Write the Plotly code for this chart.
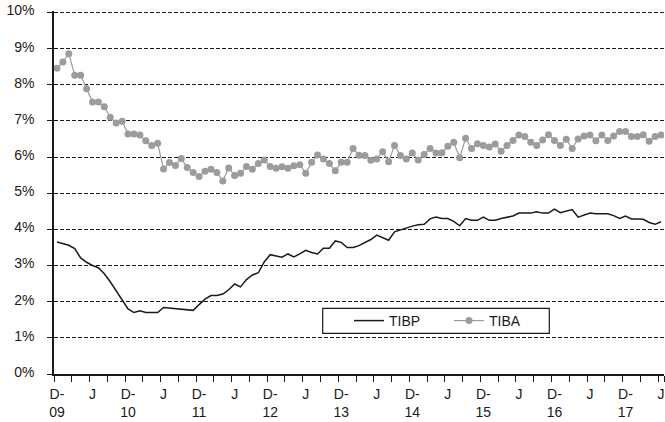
import pandas as pd
import plotly.graph_objects as go

# Monthly categories, Dec 2009 .. Jun 2018
months = [d.strftime("%Y-%m") for d in pd.date_range("2009-12-01", "2018-06-01", freq="MS")]

tibp = [3.65, 3.60, 3.56, 3.47, 3.21, 3.09, 3.00, 2.94, 2.77, 2.55, 2.29, 2.06, 1.80,
        1.70, 1.75, 1.70, 1.69, 1.70, 1.84, 1.82, 1.80, 1.80, 1.76, 1.76, 1.92,
        2.07, 2.17, 2.17, 2.21, 2.33, 2.49, 2.41, 2.61, 2.74, 2.80, 3.10, 3.30, 3.26,
        3.23, 3.32, 3.24, 3.32, 3.42, 3.36, 3.32, 3.48, 3.48, 3.68, 3.64, 3.50, 3.50,
        3.55, 3.63, 3.72, 3.84, 3.77, 3.70, 3.93, 3.99, 4.04, 4.09, 4.13, 4.14, 4.29,
        4.34, 4.30, 4.30, 4.22, 4.10, 4.30, 4.25, 4.25, 4.34, 4.25, 4.25, 4.30, 4.34,
        4.37, 4.45, 4.45, 4.45, 4.49, 4.45, 4.45, 4.56, 4.46, 4.50, 4.55, 4.34, 4.39,
        4.45, 4.43, 4.43, 4.43, 4.38, 4.30, 4.37, 4.29, 4.29, 4.28, 4.19, 4.14, 4.21]

tiba = [8.46, 8.63, 8.86, 8.26, 8.26, 7.89, 7.52, 7.52, 7.39, 7.10, 6.94, 6.99, 6.64,
        6.64, 6.61, 6.45, 6.32, 6.38, 5.67, 5.85, 5.77, 5.96, 5.71, 5.57, 5.46,
        5.61, 5.66, 5.57, 5.34, 5.70, 5.49, 5.55, 5.74, 5.66, 5.82, 5.92, 5.74, 5.69,
        5.73, 5.69, 5.76, 5.79, 5.55, 5.86, 6.06, 5.95, 5.82, 5.62, 5.86, 5.86, 6.24,
        6.05, 6.04, 5.91, 5.95, 6.15, 5.87, 6.32, 6.04, 5.95, 6.11, 5.92, 6.07, 6.24,
        6.11, 6.12, 6.30, 6.41, 5.98, 6.52, 6.24, 6.37, 6.32, 6.28, 6.36, 6.16, 6.32,
        6.46, 6.61, 6.57, 6.41, 6.32, 6.47, 6.62, 6.46, 6.32, 6.49, 6.24, 6.50, 6.58,
        6.61, 6.45, 6.61, 6.46, 6.58, 6.71, 6.71, 6.57, 6.57, 6.62, 6.44, 6.57, 6.61]

# tick labels, one per quarter (every 3rd month)
x_ticktext = ["D-<br>09", "", "J", "",
              "D-<br>10", "", "J", "",
              "D-<br>11", "", "J", "",
              "D-<br>12", "", "J", "",
              "D-<br>13", "", "J", "",
              "D-<br>14", "", "J", "",
              "D-<br>15", "", "J", "",
              "D-<br>16", "", "J", "",
              "D-<br>17", "", "J"]
y_tickvals = [0, 1, 2, 3, 4, 5, 6, 7, 8, 9, 10]
y_ticktext = ["0%", "1%", "2%", "3%", "4%", "5%", "6%", "7%", "8%", "9%", "10%"]

FONT = "Liberation Sans, Arial, sans-serif"
W, H = 665, 422
ML, MR, MT, MB = 54, 1, 11, 48
PW, PH = W - ML - MR, H - MT - MB


def px(xp):  # pixel x -> paper x
    return (xp - ML) / PW


def py(yp):  # pixel y -> paper y
    return (H - MB - yp) / PH


fig = go.Figure()
fig.add_trace(go.Scatter(x=months, y=tibp, name="TIBP", mode="lines",
                         line=dict(color="#1a1a1a", width=1.5)))
fig.add_trace(go.Scatter(x=months, y=tiba, name="TIBA", mode="lines+markers",
                         line=dict(color="#9c9c9c", width=1.2),
                         marker=dict(color="#9c9c9c", size=7)))

fig.update_layout(
    width=W, height=H,
    margin=dict(l=ML, r=MR, t=MT, b=MB, autoexpand=False),
    paper_bgcolor="white", plot_bgcolor="white",
    font=dict(family=FONT, size=14, color="#1a1a1a"),
    showlegend=True,
    legend=dict(orientation="h", x=px(349), xanchor="left",
                y=py(321), yanchor="middle",
                bgcolor="rgba(0,0,0,0)", borderwidth=0,
                entrywidth=55, entrywidthmode="pixels",
                font=dict(family=FONT, size=14, color="#1a1a1a")),
    xaxis=dict(type="category", range=[-0.5, len(months) - 0.5],
               tickmode="array", tickvals=months[0::3], ticktext=x_ticktext,
               tickson="boundaries", ticks="outside", ticklen=6, tickwidth=1,
               tickcolor="#1a1a1a", tickangle=0, ticklabelstandoff=6,
               ticklabeloverflow="allow",
               showgrid=False, showline=True, linecolor="#1a1a1a", linewidth=1.5,
               zeroline=False, automargin=False),
    yaxis=dict(range=[0, 10.04], tickmode="array", tickvals=y_tickvals, ticktext=y_ticktext,
               ticks="outside", ticklen=5, tickcolor="#1a1a1a", ticklabelstandoff=10,
               ticklabelshift=-2, ticklabeloverflow="allow",
               showgrid=True, gridcolor="#1a1a1a", gridwidth=1, griddash="4px,2px",
               showline=True, linecolor="#1a1a1a", linewidth=1.5, zeroline=False,
               automargin=False),
    shapes=[dict(type="rect", xref="paper", yref="paper",
                 x0=px(322.7), x1=px(549.3), y0=py(333.3), y1=py(308.3),
                 line=dict(color="#1a1a1a", width=1.2), layer="above")],
)

fig.write_html("out.html",
               config={"displayModeBar": False},
               post_script="document.body.style.margin='0px';"
                           "document.body.style.overflow='hidden';")
